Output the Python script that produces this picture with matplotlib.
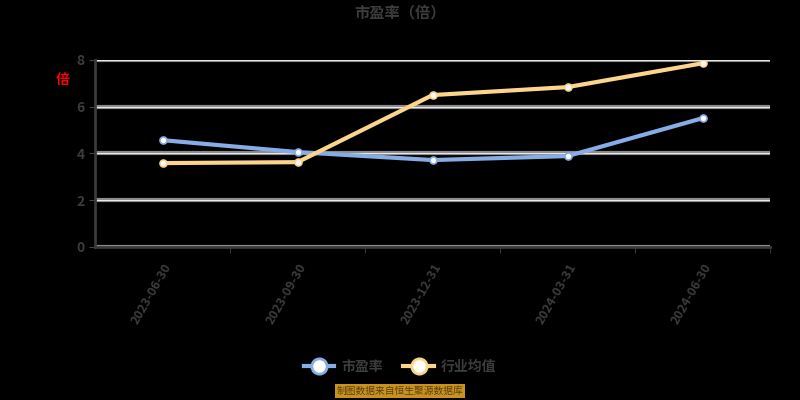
import matplotlib
matplotlib.use("Agg")
import matplotlib.pyplot as plt
from matplotlib.lines import Line2D

plt.rcParams['font.family'] = ['Noto Sans CJK SC', 'DejaVu Sans']

title = "市盈率（倍）"
unit_label = "倍"
categories = ["2023-06-30", "2023-09-30", "2023-12-31", "2024-03-31", "2024-06-30"]
series_names = ["市盈率", "行业均值"]
company = [4.57, 4.06, 3.72, 3.89, 5.51]
industry = [3.59, 3.63, 6.50, 6.84, 7.86]
yticks = [0, 2, 4, 6, 8]
source = "制图数据来自恒生聚源数据库"

bg = "#000000"
txt = "#3c3c3c"
blue = "#86ade6"
orange = "#fdd48c"

fig = plt.figure(figsize=(8, 4), dpi=100, facecolor=bg)
ax = fig.add_axes([0.119, 0.3825, 0.8435, 0.4675], facecolor=bg)

x = list(range(len(categories)))
for yv in yticks:
    ax.axhline(yv, color="#8a8a8a", lw=3.0, zorder=1)
    ax.axhline(yv, color="#e8e8e8", lw=0.8, zorder=1)

ax.plot(x, company, color=blue, lw=3, marker="o", ms=5, mfc="white", mec=blue, mew=1.2, zorder=3)
ax.plot(x, industry, color=orange, lw=3, marker="o", ms=5, mfc="white", mec=orange, mew=1.2, zorder=3)

ax.set_xlim(-0.5, len(categories) - 0.5)
ax.set_ylim(0, 8)
ax.set_yticks(yticks)
ax.set_yticklabels([str(v) for v in yticks], color=txt, fontsize=10, fontweight="bold")
ax.set_xticks(x)
ax.set_xticklabels(categories, rotation=60, ha="right", rotation_mode="anchor", color=txt, fontsize=9,
                   fontweight="bold")
ax.tick_params(axis="x", length=0, pad=10)
ax.set_xticks([i + 0.5 for i in x], minor=True)
ax.tick_params(axis="x", which="minor", length=4, color="#444444")
ax.tick_params(axis="y", length=4, color="#444444")

for s in ["top", "right"]:
    ax.spines[s].set_visible(False)
ax.spines["left"].set_color("#3a3a3a")
ax.spines["left"].set_linewidth(2)
ax.spines["bottom"].set_color("#3a3a3a")
ax.spines["bottom"].set_linewidth(2)

fig.text(0.5, 0.97, title, ha="center", va="center", color=txt, fontsize=11, fontweight="bold")
fig.text(0.078, 0.80, unit_label, ha="center", va="center", color="#ff0000", fontsize=10, fontweight="bold")

handles = [
    Line2D([0], [0], color=blue, lw=3, marker="o", ms=11, mfc="white", mec=blue, mew=2),
    Line2D([0], [0], color=orange, lw=3, marker="o", ms=11, mfc="white", mec=orange, mew=2),
]
leg = fig.legend(handles, series_names, loc="center", bbox_to_anchor=(0.5, 0.083), ncol=2,
                 frameon=False, fontsize=10, handlelength=2.2, columnspacing=1.5, handletextpad=0.5)
for t in leg.get_texts():
    t.set_color(txt)
    t.set_fontweight("bold")

fig.text(0.5, 0.022, source, ha="center", va="center", color="#5a4010", fontsize=7,
         bbox=dict(boxstyle="square,pad=0.2", fc="#c9921f", ec="none"))

fig.savefig("out.png", dpi=100, facecolor=bg)
